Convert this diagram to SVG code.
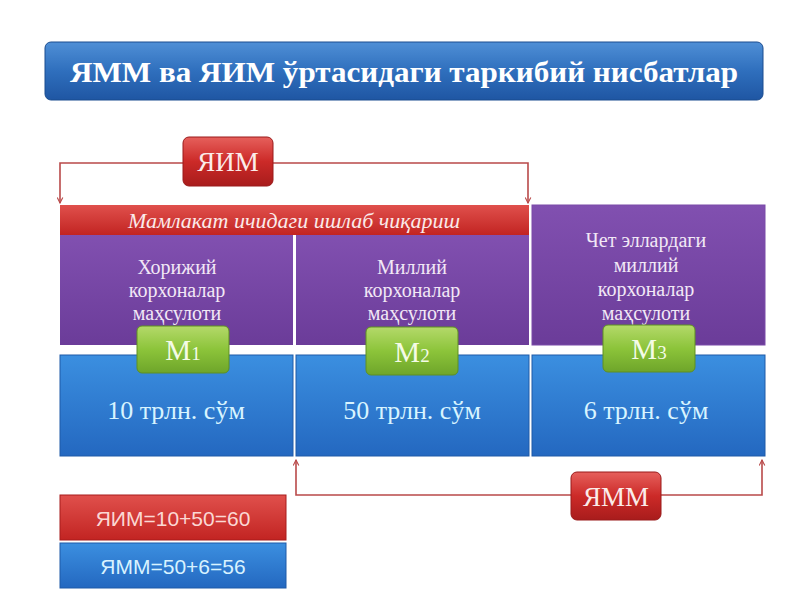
<svg xmlns="http://www.w3.org/2000/svg" width="800" height="600" viewBox="0 0 800 600">
<defs>
<linearGradient id="gTitle" x1="0" y1="0" x2="0" y2="1"><stop offset="0" stop-color="#4f8fd6"/><stop offset="0.5" stop-color="#2f6fbd"/><stop offset="1" stop-color="#1f56a3"/></linearGradient>
<linearGradient id="gRed" x1="0" y1="0" x2="0" y2="1"><stop offset="0" stop-color="#e6605c"/><stop offset="0.5" stop-color="#cc2a28"/><stop offset="1" stop-color="#a81c1c"/></linearGradient>
<linearGradient id="gBar" x1="0" y1="0" x2="0" y2="1"><stop offset="0" stop-color="#e0504c"/><stop offset="1" stop-color="#c22422"/></linearGradient>
<linearGradient id="gPurple" x1="0" y1="0" x2="0" y2="1"><stop offset="0" stop-color="#8150b0"/><stop offset="1" stop-color="#6b3c99"/></linearGradient>
<linearGradient id="gBlue" x1="0" y1="0" x2="0" y2="1"><stop offset="0" stop-color="#3b8fe0"/><stop offset="1" stop-color="#2468c0"/></linearGradient>
<linearGradient id="gGreen" x1="0" y1="0" x2="0" y2="1"><stop offset="0" stop-color="#b4d96a"/><stop offset="0.5" stop-color="#8cc43a"/><stop offset="1" stop-color="#6ea52a"/></linearGradient>
<marker id="arr" viewBox="0 0 10 10" refX="9" refY="5" markerWidth="7" markerHeight="7" orient="auto-start-reverse" markerUnits="userSpaceOnUse">
<path d="M1,1 L9,5 L1,9" fill="none" stroke="#b94a4a" stroke-width="1.6"/>
</marker>
</defs>
<style>
.serif{font-family:"Liberation Serif","DejaVu Serif",serif}
.sans{font-family:"Liberation Sans","DejaVu Sans",sans-serif}
.lbl{font-size:20px;fill:#f2e8f6;text-anchor:middle}
.val{font-size:26px;fill:#d8f4ff;text-anchor:middle}
.m{font-size:29px;fill:#f4fbe6;text-anchor:middle}
.mi{font-size:19px}
.conn{fill:none;stroke:#b94a4a;stroke-width:1.6}
.redbtn{fill:url(#gRed);stroke:#9a1a1a;stroke-width:1}
.redtxt{font-size:27px;fill:#fbecea;text-anchor:middle}
</style>
<rect width="800" height="600" fill="#ffffff"/>

<g id="title">
<rect x="45" y="42" width="718" height="58" rx="6" fill="url(#gTitle)" stroke="#1b4c8f" stroke-width="1"/>
<text x="404" y="82" class="serif" font-size="30" font-weight="bold" fill="#ffffff" text-anchor="middle" textLength="668" lengthAdjust="spacingAndGlyphs">ЯММ ва ЯИМ ўртасидаги таркибий  нисбатлар</text>
</g>

<g id="connectors">
<path class="conn" d="M60,203 V163 H528 V203" marker-start="url(#arr)" marker-end="url(#arr)"/>
<path class="conn" d="M296,460 V495 H762 V460" marker-start="url(#arr)" marker-end="url(#arr)"/>
</g>

<g id="yim-top">
<rect x="183" y="137" width="90" height="49" rx="6" class="redbtn"/>
<text x="228" y="171" class="serif redtxt">ЯИМ</text>
</g>

<g id="domestic-bar">
<rect x="60" y="205" width="469" height="30" fill="url(#gBar)"/>
<text x="294" y="228" class="serif" font-size="22" font-style="italic" fill="#fbeaea" text-anchor="middle">Мамлакат ичидаги ишлаб чиқариш</text>
</g>

<g id="col1">
<rect x="60" y="235" width="233" height="110" fill="url(#gPurple)"/>
<rect x="60" y="355" width="233" height="101" fill="url(#gBlue)" stroke="#1e5aa8" stroke-width="1"/>
<text class="serif lbl" x="177" y="274">Хорижий</text>
<text class="serif lbl" x="177" y="297">корхоналар</text>
<text class="serif lbl" x="177" y="320">маҳсулоти</text>
<text class="serif val" x="176" y="419">10 трлн. сўм</text>
</g>

<g id="col2">
<rect x="296" y="235" width="233" height="110" fill="url(#gPurple)"/>
<rect x="296" y="355" width="233" height="101" fill="url(#gBlue)" stroke="#1e5aa8" stroke-width="1"/>
<text class="serif lbl" x="412" y="274">Миллий</text>
<text class="serif lbl" x="412" y="297">корхоналар</text>
<text class="serif lbl" x="412" y="320">маҳсулоти</text>
<text class="serif val" x="412" y="419">50 трлн. сўм</text>
</g>

<g id="col3">
<rect x="532" y="205" width="233" height="140" fill="url(#gPurple)" stroke="#7b4aa8" stroke-width="1"/>
<rect x="532" y="355" width="233" height="101" fill="url(#gBlue)" stroke="#1e5aa8" stroke-width="1"/>
<text class="serif lbl" x="646" y="247">Чет эллардаги</text>
<text class="serif lbl" x="646" y="272">миллий</text>
<text class="serif lbl" x="646" y="296">корхоналар</text>
<text class="serif lbl" x="646" y="320">маҳсулоти</text>
<text class="serif val" x="646" y="419">6 трлн. сўм</text>
</g>

<g id="m1">
<rect x="137" y="326" width="92" height="47" rx="5" fill="url(#gGreen)" stroke="#5e8f22" stroke-width="1"/>
<text class="serif m" x="183" y="360">M<tspan class="mi">1</tspan></text>
</g>
<g id="m2">
<rect x="366" y="327" width="92" height="48" rx="5" fill="url(#gGreen)" stroke="#5e8f22" stroke-width="1"/>
<text class="serif m" x="412" y="362">M<tspan class="mi">2</tspan></text>
</g>
<g id="m3">
<rect x="603" y="325" width="92" height="47" rx="5" fill="url(#gGreen)" stroke="#5e8f22" stroke-width="1"/>
<text class="serif m" x="649" y="359">M<tspan class="mi">3</tspan></text>
</g>

<g id="ymm-bottom">
<rect x="571" y="472" width="90" height="48" rx="6" class="redbtn"/>
<text x="616" y="506" class="serif redtxt">ЯММ</text>
</g>

<g id="formula-yim">
<rect x="60" y="495" width="226" height="45" fill="url(#gBar)" stroke="#a81c1c" stroke-width="1"/>
<text x="173" y="526" class="sans" font-size="21" fill="#fbd8d4" text-anchor="middle">ЯИМ=10+50=60</text>
</g>
<g id="formula-ymm">
<rect x="60" y="543" width="226" height="45" fill="url(#gBlue)" stroke="#1e5aa8" stroke-width="1"/>
<text x="173" y="574" class="sans" font-size="21" fill="#d8f2ff" text-anchor="middle">ЯММ=50+6=56</text>
</g>
</svg>
